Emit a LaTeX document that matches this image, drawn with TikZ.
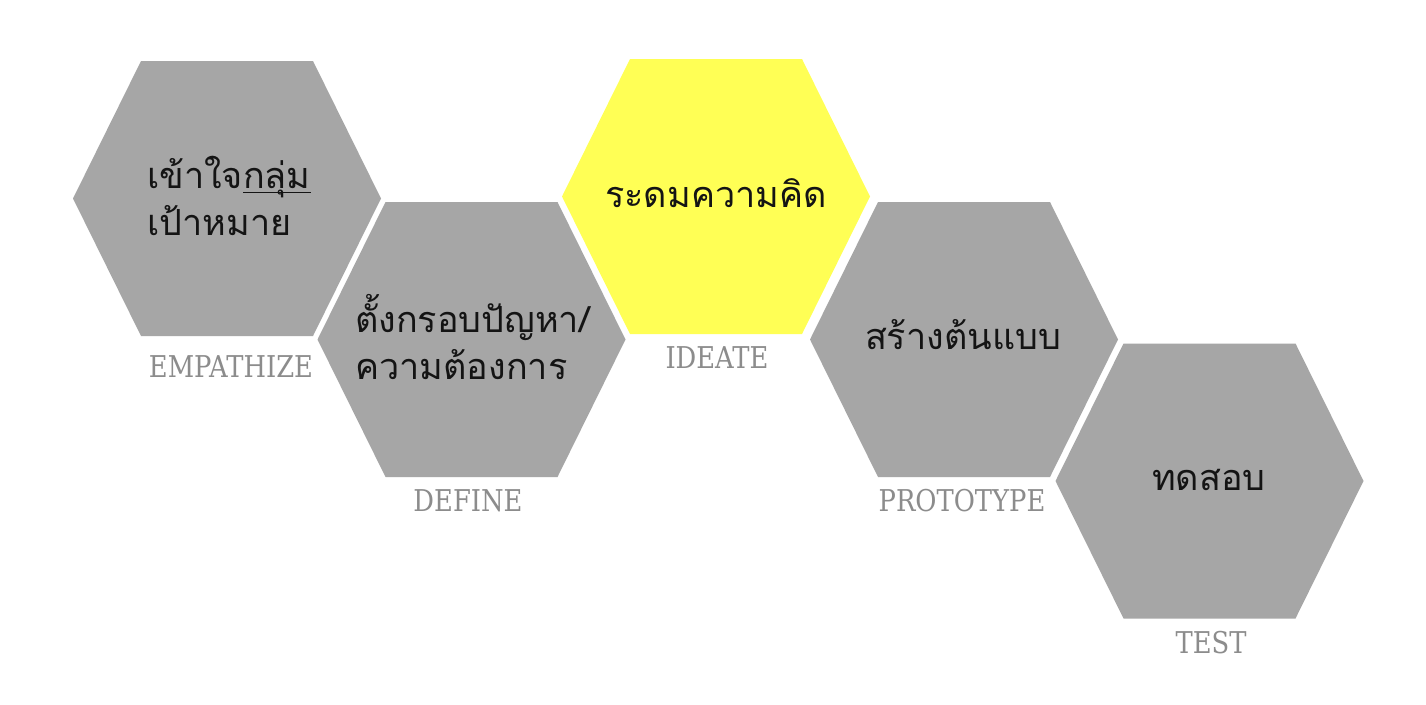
\documentclass[tikz,border=0pt]{standalone}
\usepackage{fontspec}
\newfontfamily\thaifont[Script=Thai]{Loma}
\newfontfamily\labfont[FakeStretch=0.86]{DejaVu Serif}
\definecolor{hexgray}{HTML}{A6A6A6}
\definecolor{hexyellow}{HTML}{FFFF55}
\definecolor{labgray}{HTML}{8C8C8C}
\definecolor{thaiink}{HTML}{141414}
\newcommand\thul[1]{\setbox0\hbox{#1}\rlap{\rule[-5pt]{\wd0}{1.3pt}}\box0}
\newcommand\hexpath[2]{(#1-154,#2) -- (#1-86,#2-137.5) -- (#1+86,#2-137.5) -- (#1+154,#2) -- (#1+86,#2+137.5) -- (#1-86,#2+137.5) -- cycle}
\tikzset{
  hexgrey/.style={fill=hexgray, draw=none},
  hexyel/.style={fill=hexyellow, draw=none},
  thaitext/.style={font=\thaifont\fontsize{36}{47}\selectfont, text=thaiink, inner sep=0pt},
  steplabel/.style={font=\labfont\fontsize{30}{30}\selectfont, text=labgray, inner sep=0pt},
}
\begin{document}
\begin{tikzpicture}[x=1pt,y=-1pt]
\useasboundingbox (0,0) rectangle (1426,704);
\fill[white] (0,0) rectangle (1426,704);
% hexagons
\fill[hexgrey] \hexpath{227}{198.5};
\fill[hexgrey] \hexpath{471.5}{339.5};
\fill[hexyel] \hexpath{716}{196.5};
\fill[hexgrey] \hexpath{964}{339.5};
\fill[hexgrey] \hexpath{1209.5}{481};
% thai texts
\node[thaitext, align=left, anchor=base west] (t1) at (147,235) {เข้าใจ\thul{กลุ่ม}\\เป้าหมาย};
\node[thaitext, align=left, anchor=base west] (t2) at (355,379) {ตั้งกรอบปัญหา/\\ความต้องการ};
\node[thaitext, anchor=base] (t3) at (716,207) {ระดมความคิด};
\node[thaitext, anchor=base] (t4) at (963,349) {สร้างต้นแบบ};
\node[thaitext, anchor=base] (t5) at (1209,490) {ทดสอบ};
% labels
\node[steplabel, anchor=base] (l1) at (231,377) {EMPATHIZE};
\node[steplabel, anchor=base] (l2) at (468,511) {DEFINE};
\node[steplabel, anchor=base] (l3) at (717,368) {IDEATE};
\node[steplabel, anchor=base] (l4) at (962,511) {PROTOTYPE};
\node[steplabel, anchor=base] (l5) at (1211,653) {TEST};
\end{tikzpicture}
\end{document}
